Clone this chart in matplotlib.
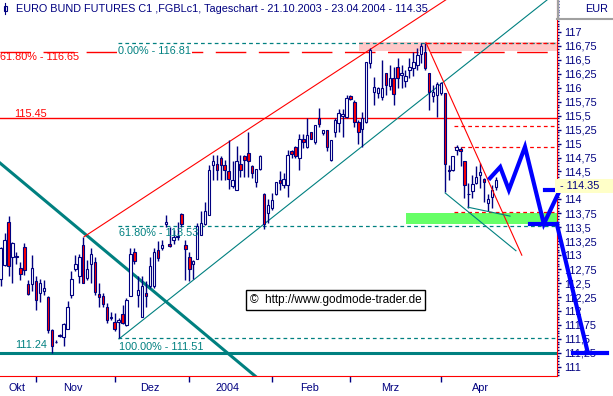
import matplotlib
matplotlib.use('Agg')
import matplotlib.pyplot as plt
from matplotlib.ticker import MultipleLocator, FixedLocator
from matplotlib.lines import Line2D
from matplotlib.patches import Rectangle

plt.rcParams['font.family'] = ['Liberation Sans Narrow', 'Liberation Sans', 'DejaVu Sans']

NAVY = '#000080'
TEAL = '#008080'
RED = '#ff0000'

# Daily OHLC, 21.10.2003 - 23.04.2004 (one entry per trading day)
opens = [112.57, 112.82, 113.59, 112.97, 112.96, 112.77, 113.14, 112.48, 112.48, 112.54,
         112.33, 112.35, 112.25, 111.66, 111.44, 111.56, 111.54, 111.68, 112.28, 112.75,
         112.62, 113.18, 112.59, 112.85, 112.88, 112.30, 112.27, 112.08, 111.88, 111.81,
         111.80, 111.95, 111.75, 112.27, 113.06, 112.28, 111.90, 112.33, 112.45, 112.45,
         113.10, 113.12, 113.55, 113.20, 113.28, 113.32, 113.73, 113.19, 112.96, 112.85,
         112.94, 113.37, 113.56, 113.72, 114.62, 114.64, 114.75, 114.62, 114.51, 114.24,
         114.17, 114.63, 114.77, 114.83, 114.60, 114.32, 114.54, 114.10, 113.75, 113.84,
         114.10, 114.34, 114.26, 114.25, 114.87, 114.93, 114.74, 115.09, 114.94, 115.20,
         115.02, 115.46, 115.19, 115.24, 114.71, 115.20, 115.36, 115.50, 115.48, 115.85,
         115.75, 115.38, 115.26, 115.39, 116.44, 115.93, 115.90, 115.84, 116.26, 116.04,
         116.17, 116.38, 116.23, 116.12, 116.31, 116.35, 116.41, 116.61, 116.65, 116.26,
         115.85, 115.87, 115.90, 115.90, 114.52, 114.53, 114.89, 114.90, 114.68, 114.10,
         114.15, 114.29, 114.43, 114.37, 113.93, 114.05, 114.23]
highs = [113.14, 113.39, 113.70, 113.23, 113.06, 112.88, 113.22, 112.56, 113.00, 112.62,
         112.57, 112.56, 112.26, 111.68, 111.48, 111.58, 111.78, 112.18, 112.71, 113.00,
         113.02, 113.33, 112.91, 113.13, 112.96, 112.50, 112.32, 112.14, 111.99, 111.96,
         111.87, 112.10, 112.23, 113.12, 113.12, 112.62, 112.62, 112.53, 112.97, 113.12,
         113.25, 113.27, 113.72, 113.51, 113.45, 113.60, 113.75, 113.27, 113.06, 112.92,
         113.57, 113.80, 113.95, 114.62, 114.80, 114.80, 114.78, 114.71, 115.06, 114.68,
         114.95, 114.80, 114.80, 115.21, 114.62, 114.54, 114.80, 114.11, 114.00, 114.11,
         114.32, 114.50, 114.48, 114.88, 114.89, 114.95, 115.18, 115.18, 115.46, 115.21,
         115.33, 115.63, 115.25, 115.25, 115.06, 115.45, 115.62, 115.62, 115.87, 115.87,
         115.78, 115.42, 115.57, 116.47, 116.71, 116.20, 116.02, 116.50, 116.26, 116.41,
         116.38, 116.53, 116.41, 116.32, 116.54, 116.64, 116.71, 116.80, 116.81, 116.26,
         116.05, 116.11, 116.11, 115.90, 114.62, 114.78, 114.97, 114.94, 114.68, 114.29,
         114.44, 114.59, 114.65, 114.39, 114.09, 114.26, 114.41]
lows = [112.45, 112.80, 112.62, 112.51, 112.85, 112.56, 112.65, 112.29, 112.35, 112.02,
        112.17, 112.29, 111.60, 111.24, 111.42, 111.54, 111.38, 111.68, 112.23, 112.71,
        112.50, 112.50, 112.56, 112.50, 112.29, 112.08, 112.08, 111.78, 111.83, 111.65,
        111.51, 111.76, 111.73, 112.26, 112.85, 112.08, 111.90, 112.08, 112.41, 112.41,
        112.90, 113.09, 113.51, 113.15, 113.20, 113.28, 113.51, 112.56, 112.54, 112.58,
        112.94, 113.36, 113.54, 113.72, 114.35, 114.35, 114.35, 114.34, 114.18, 114.20,
        114.16, 114.41, 114.41, 114.41, 114.38, 114.23, 114.53, 113.47, 113.57, 113.81,
        114.08, 114.17, 114.20, 114.05, 114.74, 114.74, 114.53, 114.92, 114.92, 115.08,
        115.00, 115.29, 115.15, 114.86, 114.68, 115.12, 115.21, 115.12, 115.45, 115.78,
        115.30, 115.00, 114.94, 115.36, 116.35, 115.69, 115.81, 115.78, 115.87, 115.96,
        115.69, 115.99, 115.99, 116.02, 116.18, 116.22, 116.32, 116.44, 116.32, 115.60,
        115.75, 115.48, 115.87, 114.14, 114.35, 114.50, 114.80, 114.60, 114.02, 113.84,
        114.02, 114.27, 114.20, 113.96, 113.79, 113.84, 114.17]
closes = [113.12, 113.27, 112.81, 113.21, 112.98, 112.66, 112.74, 112.30, 112.77, 112.20,
          112.50, 112.42, 111.66, 111.38, 111.45, 111.55, 111.76, 112.08, 112.57, 112.84,
          112.97, 112.50, 112.75, 113.03, 112.34, 112.25, 112.12, 111.83, 111.89, 111.67,
          111.84, 111.78, 112.19, 113.03, 112.90, 112.38, 112.44, 112.27, 112.80, 113.05,
          112.95, 113.18, 113.60, 113.17, 113.32, 113.35, 113.56, 113.11, 112.75, 112.89,
          113.52, 113.58, 113.80, 114.53, 114.68, 114.53, 114.62, 114.52, 114.36, 114.35,
          114.68, 114.53, 114.71, 114.69, 114.48, 114.54, 114.77, 113.55, 113.90, 113.99,
          114.32, 114.29, 114.36, 114.80, 114.81, 114.78, 115.09, 115.02, 115.15, 115.09,
          115.33, 115.35, 115.24, 114.93, 115.06, 115.42, 115.54, 115.53, 115.82, 115.80,
          115.39, 115.20, 115.46, 116.47, 116.68, 116.02, 115.99, 115.99, 116.05, 116.17,
          115.88, 116.17, 116.26, 116.22, 116.38, 116.47, 116.59, 116.74, 116.35, 115.93,
          115.92, 116.06, 116.08, 114.63, 114.51, 114.78, 114.94, 114.86, 114.26, 114.09,
          114.27, 114.41, 114.49, 114.32, 114.00, 114.17, 114.35]

# x axis: trading-day index of first day of each month, and month label positions
month_starts = [9, 29, 48, 69, 89, 112]
month_label_pos = [4.2, 18.4, 38.0, 57.8, 78.7, 99.1, 122.0]
month_names = ['Okt', 'Nov', 'Dez', '2004', 'Feb', 'Mrz', 'Apr']
price_ticks = [111 + 0.25 * k for k in range(25)]

# Fibonacci levels / drawn lines (index, price)
fib_top, fib_618, fib_low = 116.81, 113.53, 111.51
res_6180 = 116.65
res_level = 115.45
low_level = 111.24
retr_levels = [115.31, 114.93, 113.77]

down_trend_x, down_trend_y = [-1, 66], [114.70, 110.76]
red_channel_x, red_channel_y = [21.2, 114.0], [113.33, 117.61]
teal_channel_x, teal_channel_y = [30.1, 142.0], [111.50, 117.74]
red_down_x, red_down_y = [108.2, 132.6], [116.81, 113.00]
teal_small1_x, teal_small1_y = [113.1, 131.1], [114.115, 113.08]
teal_small2_x, teal_small2_y = [118.9, 129.6], [113.86, 113.70]

proj_x = [124.5, 127.1, 129.3, 133.4, 138.2, 142.3]
proj_y = [114.38, 114.58, 114.17, 114.94, 113.56, 114.17]
proj_down_x, proj_down_y = [141.5, 149.4], [113.56, 111.25]

fig = plt.figure(figsize=(6.13, 3.96), dpi=100)
ax = fig.add_axes([0, 20 / 396, 557 / 613, 376 / 396])
ax.set_xlim(-0.18, 141.55)
ax.set_ylim(110.835, 117.573)

# bands
ax.fill_between([91.2, 142], 116.66, 116.815, color='#ffc8c8', lw=0, zorder=1)
ax.fill_between([103.1, 142], 113.55, 113.76, color='#66ff66', lw=0, zorder=1)

# horizontal levels
ax.axhline(res_6180, color=RED, lw=1, dashes=(22, 9), zorder=2)
ax.axhline(res_level, color=RED, lw=1, zorder=2)
ax.axhline(low_level, color=TEAL, lw=2.2, zorder=2)
for lv in [fib_top, fib_618, fib_low]:
    ax.plot([29.9, 142], [lv, lv], color=TEAL, lw=0.9, dashes=(3, 2.5), zorder=2)
ax.plot([108.2, 142], [fib_top, fib_top], color=RED, lw=0.9, dashes=(3, 2.5), zorder=2)
for lv in retr_levels:
    ax.plot([115.3, 142], [lv, lv], color=RED, lw=0.9, dashes=(3, 2.5), zorder=2)

# trend lines
ax.plot(down_trend_x, down_trend_y, color=TEAL, lw=2.2, zorder=2)
ax.plot(red_channel_x, red_channel_y, color=RED, lw=0.8, zorder=2)
ax.plot(teal_channel_x, teal_channel_y, color=TEAL, lw=0.8, zorder=2)
ax.plot(red_down_x, red_down_y, color=RED, lw=0.8, zorder=4)
ax.plot(teal_small1_x, teal_small1_y, color=TEAL, lw=0.8, zorder=4)
ax.plot(teal_small2_x, teal_small2_y, color=TEAL, lw=0.8, zorder=4)

# candles
days = list(range(len(opens)))
ax.vlines(days, lows, highs, color=NAVY, lw=1.0, zorder=3)
for d, o, c in zip(days, opens, closes):
    fill = RED if c < o else 'white'
    bottom = min(o, c)
    height = max(abs(c - o), 0.012)
    ax.bar(d, height, bottom=bottom, width=0.62, color=fill, edgecolor=NAVY,
           linewidth=0.8, zorder=3)

# blue projection
blue = dict(color='#0000ff', lw=3, zorder=5, clip_on=False)
ax.plot(proj_x, proj_y, solid_joinstyle='miter', **blue)
ax.plot([138.5, 146.1], [114.17, 114.17], **blue)
ax.plot([134.6, 141.5], [113.56, 113.56], **blue)
ax.plot(proj_down_x, proj_down_y, **blue)
ax.plot([145.6, 154.3], [111.25, 111.25], **blue)

# labels
fs = 7.8
ax.text(-0.18, 116.55, '61.80% - 116.65', color=RED, fontsize=fs, va='center')
ax.text(29.85, 116.66, '0.00% - 116.81', color=TEAL, fontsize=fs, va='center',
        bbox=dict(facecolor='white', edgecolor='none', pad=0.5))
ax.text(3.4, 115.53, '115.45', color=RED, fontsize=fs, va='center')
ax.text(30.1, 113.40, '61.80% - 113.53', color=TEAL, fontsize=fs, va='center')
ax.text(30.1, 111.355, '100.00% - 111.51', color=TEAL, fontsize=fs, va='center')
ax.text(3.6, 111.39, '111.24', color=TEAL, fontsize=fs, va='center')
ax.text(85.2, 112.197, '\u00a9  http://www.godmode-trader.de', color='black', fontsize=8.5,
        ha='center', va='center', zorder=6,
        bbox=dict(facecolor='white', edgecolor='black', lw=1, boxstyle='square,pad=0.35'))

# axes styling
for s in ['top', 'left']:
    ax.spines[s].set_visible(False)
ax.spines['right'].set_color(RED)
ax.spines['bottom'].set_color(RED)
ax.yaxis.tick_right()
ax.yaxis.set_major_locator(FixedLocator(price_ticks))
ax.yaxis.set_minor_locator(MultipleLocator(0.05))
ax.yaxis.set_major_formatter(lambda v, pos: f'{v:g}'.replace('.', ','))
ax.tick_params(axis='y', which='major', length=3, width=1, colors=NAVY, pad=2, labelsize=fs)
ax.tick_params(axis='y', which='minor', length=1.2, width=1, colors=NAVY)

ax.xaxis.set_major_locator(FixedLocator(month_starts))
ax.xaxis.set_minor_locator(FixedLocator(month_label_pos))
ax.xaxis.set_minor_formatter(lambda v, pos: month_names[pos])
ax.tick_params(axis='x', which='major', length=4, width=1, color=NAVY, labelbottom=False)
ax.tick_params(axis='x', which='minor', length=0, pad=5, labelsize=fs, labelcolor=NAVY)

# last price marker on axis
ax.text(1.0, 114.24, ' - 114.35    ', transform=ax.get_yaxis_transform(), color=NAVY,
        fontsize=fs, va='center', ha='left', clip_on=False, zorder=7,
        bbox=dict(facecolor='#ffffc8', edgecolor='none', pad=1.5))

# title and header
fig.text(16 / 613, 1 - 9 / 396, 'EURO BUND FUTURES C1 ,FGBLc1, Tageschart - 21.10.2003 - 23.04.2004 - 114.35',
         color=NAVY, fontsize=fs, va='center')
fig.add_artist(Line2D([5.5 / 613, 5.5 / 613], [1 - 14 / 396, 1 - 3 / 396], color=NAVY, lw=0.8))
fig.add_artist(Rectangle((4 / 613, 1 - 11 / 396), 3 / 613, 5 / 396, facecolor='white',
                         edgecolor=NAVY, lw=0.8))
fig.text(608 / 613, 1 - 9 / 396, 'EUR', color=NAVY, fontsize=fs, va='center', ha='right')
fig.add_artist(Line2D([557 / 613, 1], [1 - 19 / 396, 1 - 19 / 396], color='#a0a0a0', lw=1.5))
fig.add_artist(Line2D([558 / 613, 558 / 613], [1 - 19 / 396, 1], color='#a0a0a0', lw=1.5))

fig.savefig('out.png', dpi=100)
